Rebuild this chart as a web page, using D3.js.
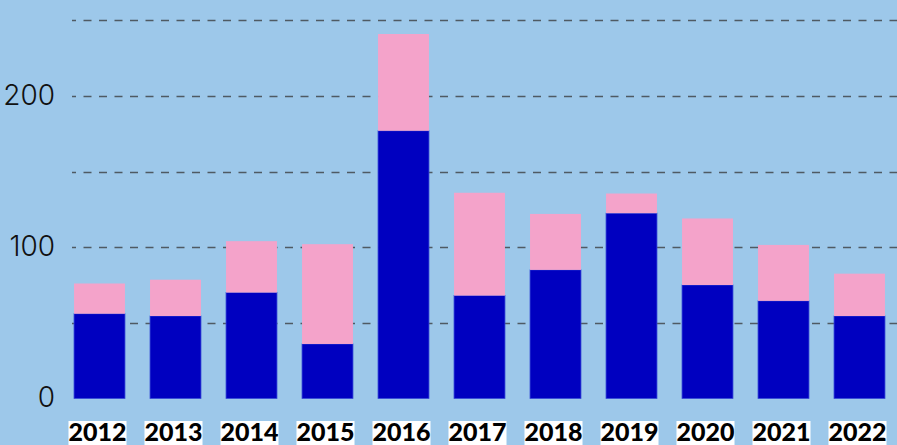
<!DOCTYPE html>
<html>
<head>
<meta charset="utf-8">
<script src="https://cdn.jsdelivr.net/npm/d3@7"></script>
<style>
  body { margin: 0; background: #9dc8ea; }
  svg { display: block; }
</style>
</head>
<body>
<div id="chart"></div>
<script>
// data
var years = ["2012", "2013", "2014", "2015", "2016", "2017", "2018", "2019", "2020", "2021", "2022"];
var darkValues = [56, 54.5, 70, 36, 177, 68, 85, 122.5, 75, 64.5, 54.5];
var pinkValues = [20, 24, 34, 66, 64, 68, 37, 13, 44, 37, 28];
var gridTicks = [50, 100, 150, 200, 250];
var labelTicks = [0, 100, 200];

var svgWidth = 897;
var svgHeight = 445;

var svg = d3.select("#chart")
  .append("svg")
  .attr("width", svgWidth)
  .attr("height", svgHeight);

svg.append("rect")
  .attr("width", svgWidth)
  .attr("height", svgHeight)
  .attr("fill", "#9dc8ea");

var data = years.map(function(y, i) {
  return { year: y, dark: darkValues[i], pink: pinkValues[i] };
});

var series = d3.stack().keys(["dark", "pink"])(data);

var xScale = d3.scaleBand()
  .domain(years)
  .range([61.5, 897.5])
  .paddingInner(0.33)
  .paddingOuter(0.165);

var yScale = d3.scaleLinear()
  .domain([0, 250])
  .range([398.4, 20.4]);

// dashed grid lines (behind the bars)
svg.append("g")
  .selectAll("line")
  .data(gridTicks)
  .enter()
  .append("line")
  .attr("x1", 72)
  .attr("x2", svgWidth)
  .attr("y1", d => Math.round(yScale(d)) + 0.5)
  .attr("y2", d => Math.round(yScale(d)) + 0.5)
  .attr("stroke", "#4f5a63")
  .attr("stroke-width", 1.6)
  .attr("stroke-dasharray", "8,7.5")
  .attr("stroke-dashoffset", 4);

// y labels
svg.append("g")
  .selectAll("text")
  .data(labelTicks)
  .enter()
  .append("text")
  .attr("x", 55)
  .attr("y", d => yScale(d) + 9)
  .attr("text-anchor", "end")
  .attr("font-family", "Inter, 'Open Sans', sans-serif")
  .attr("font-weight", 300)
  .attr("font-size", 28)
  .attr("fill", "#111")
  .text(d => d);

// stacked bars
var colors = { dark: "#0000c0", pink: "#f4a3ca" };
var strokes = { dark: "#3346d6", pink: "none" };

svg.append("g")
  .selectAll("g")
  .data(series)
  .enter()
  .append("g")
  .attr("fill", d => colors[d.key])
  .attr("stroke", d => strokes[d.key])
  .attr("stroke-width", 0.8)
  .selectAll("rect")
  .data(d => d)
  .enter()
  .append("rect")
  .attr("x", d => xScale(d.data.year))
  .attr("y", d => yScale(d[1]))
  .attr("width", xScale.bandwidth())
  .attr("height", d => yScale(d[0]) - yScale(d[1]));

// year labels with white highlight
var labelGroup = svg.append("g");
years.forEach(function(y) {
  var g = labelGroup.append("g");
  var bg = g.append("rect").attr("fill", "#ffffff");
  var t = g.append("text")
    .attr("x", xScale(y) + xScale.bandwidth() / 2 - 2)
    .attr("y", 441)
    .attr("text-anchor", "middle")
    .attr("font-family", "Lato, 'Open Sans', sans-serif")
    .attr("font-weight", 900)
    .attr("font-size", 25)
    .attr("fill", "#000")
    .text(y);
  var bb = t.node().getBBox();
  bg.attr("x", bb.x)
    .attr("y", 421)
    .attr("width", bb.width)
    .attr("height", svgHeight - 421);
});
</script>
</body>
</html>
